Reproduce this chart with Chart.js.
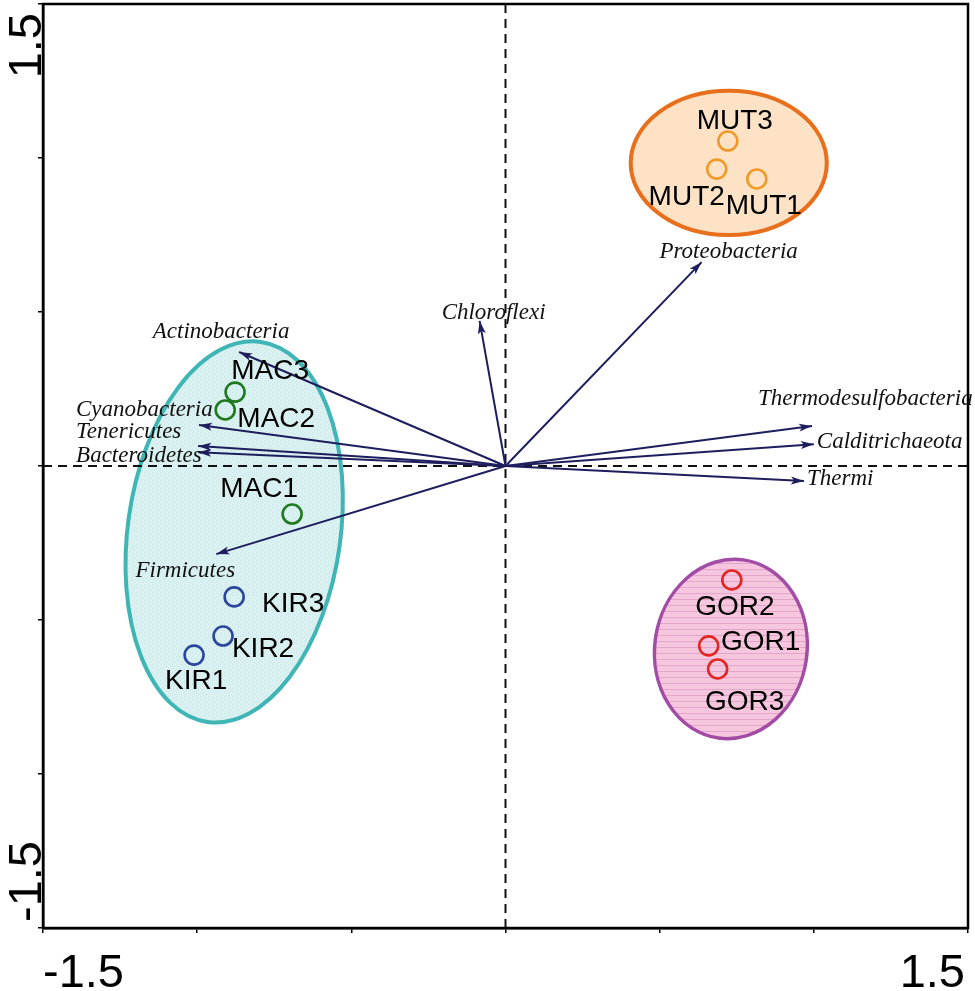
<!DOCTYPE html>
<html>
<head>
<meta charset="utf-8">
<script src="https://cdn.jsdelivr.net/npm/chart.js@4.4.0/dist/chart.umd.min.js"></script>
<style>
  html, body { margin: 0; padding: 0; background: #fff; }
  #wrap { width: 975px; height: 991px; }
</style>
</head>
<body>
<div id="wrap"><canvas id="rdaChart" width="975" height="991"></canvas></div>
<script>
// rda.js
// Biplot RDA: muestras (círculos), filos (flechas) y elipses de grupo

// --- Datos ---
const sampleNames = ['MUT1', 'MUT2', 'MUT3', 'MAC1', 'MAC2', 'MAC3', 'KIR1', 'KIR2', 'KIR3', 'GOR1', 'GOR2', 'GOR3'];
const sampleGroup = ['MUT', 'MUT', 'MUT', 'MAC', 'MAC', 'MAC', 'KIR', 'KIR', 'KIR', 'GOR', 'GOR', 'GOR'];
const sampleX = [0.815, 0.685, 0.721, -0.692, -0.909, -0.877, -1.010, -0.916, -0.880, 0.659, 0.734, 0.688];
const sampleY = [0.932, 0.964, 1.055, -0.156, 0.182, 0.240, -0.614, -0.552, -0.425, -0.584, -0.370, -0.659];

const speciesNames = ['Proteobacteria', 'Chloroflexi', 'Actinobacteria', 'Cyanobacteria', 'Tenericutes',
  'Bacteroidetes', 'Firmicutes', 'Thermodesulfobacteria', 'Calditrichaeota', 'Thermi'];
const speciesX = [0.636, -0.084, -0.864, -0.994, -0.997, -0.997, -0.938, 0.994, 1.000, 0.968];
const speciesY = [0.662, 0.471, 0.370, 0.133, 0.065, 0.045, -0.286, 0.130, 0.071, -0.049];

// elipses de grupo: centro y semiejes en unidades del gráfico
const ellipseGroups = ['MUT', 'GOR', 'MAC-KIR'];
const ellipseCX = [0.724, 0.731, -0.880];
const ellipseCY = [0.984, -0.594, -0.214];
const ellipseRX = [0.318, 0.247, 0.345];
const ellipseRY = [0.234, 0.292, 0.623];
const ellipseTilt = [0, 8, 8]; // grados, sentido horario

const axisMin = -1.5, axisMax = 1.5, axisStep = 0.5;
const xTickLabels = ['-1.5', '1.5'];
const yTickLabels = ['-1.5', '1.5'];

// --- Estilos ---
const groupColors = { MUT: '#f09a2a', MAC: '#1f7a1f', KIR: '#2a469c', GOR: '#e3261f' };
const arrowColor = '#1e1e5e';
const ellipseStyle = [
  { fill: '#fde2c6', stroke: '#e86f1c', width: 4, pattern: null },
  { fill: '#f6c6df', stroke: '#a24ca6', width: 3.5, pattern: 'stripes' },
  { fill: '#dbf0f0', stroke: '#3fb5b5', width: 4, pattern: 'dots' }
];
// desplazamiento de etiquetas en píxeles respecto al punto
const sampleLabelOffset = {
  MUT1: [7, 27], MUT2: [-30, 28], MUT3: [7, -20],
  MAC1: [-33, -25], MAC2: [51, 9], MAC3: [35, -21],
  KIR1: [2, 26], KIR2: [40, 13], KIR3: [59, 7],
  GOR1: [52, -4], GOR2: [3, 27], GOR3: [27, 33]
};
const speciesLabelOffset = {
  Proteobacteria: [27, -10, 'center'], Chloroflexi: [14, -8, 'center'],
  Actinobacteria: [-18, -20, 'center'], Cyanobacteria: [-123, -15, 'left'],
  Tenericutes: [-122, -14, 'left'], Bacteroidetes: [-122, 4, 'left'],
  Firmicutes: [-31, 17, 'center'], Thermodesulfobacteria: [-54, -27, 'left'],
  Calditrichaeota: [3, -2, 'left'], Thermi: [3, -2, 'left']
};

function makePattern(ctx, type, base) {
  const c = document.createElement('canvas');
  const p = c.getContext('2d');
  if (type === 'stripes') {
    c.width = 6; c.height = 6;
    p.fillStyle = base; p.fillRect(0, 0, 6, 6);
    p.fillStyle = '#e4a6c8'; p.fillRect(0, 5, 6, 1);
  } else {
    c.width = 4; c.height = 4;
    p.fillStyle = base; p.fillRect(0, 0, 4, 4);
    p.fillStyle = '#c9e6e6'; p.fillRect(0, 0, 1, 1); p.fillRect(2, 2, 1, 1);
  }
  return ctx.createPattern(c, 'repeat');
}

// Plugin: elipses, ejes discontinuos, flechas, etiquetas y marco
const biplotPlugin = {
  id: 'biplot',
  beforeDatasetsDraw(chart) {
    const ctx = chart.ctx, xs = chart.scales.x, ys = chart.scales.y, a = chart.chartArea;
    ctx.save();
    ellipseGroups.forEach((g, i) => {
      const cx = xs.getPixelForValue(ellipseCX[i]);
      const cy = ys.getPixelForValue(ellipseCY[i]);
      const rx = xs.getPixelForValue(ellipseCX[i] + ellipseRX[i]) - cx;
      const ry = cy - ys.getPixelForValue(ellipseCY[i] + ellipseRY[i]);
      const st = ellipseStyle[i];
      ctx.beginPath();
      ctx.ellipse(cx, cy, rx, ry, ellipseTilt[i] * Math.PI / 180, 0, 2 * Math.PI);
      ctx.fillStyle = st.pattern ? makePattern(ctx, st.pattern, st.fill) : st.fill;
      ctx.fill();
      ctx.lineWidth = st.width;
      ctx.strokeStyle = st.stroke;
      ctx.stroke();
    });
    // líneas de cero
    const x0 = xs.getPixelForValue(0), y0 = ys.getPixelForValue(0);
    ctx.setLineDash([9, 6]);
    ctx.lineWidth = 2;
    ctx.strokeStyle = '#111';
    ctx.beginPath();
    ctx.moveTo(x0, a.top); ctx.lineTo(x0, a.bottom);
    ctx.moveTo(a.left, y0); ctx.lineTo(a.right, y0);
    ctx.stroke();
    ctx.restore();
  },
  afterDatasetsDraw(chart) {
    const ctx = chart.ctx, xs = chart.scales.x, ys = chart.scales.y;
    const x0 = xs.getPixelForValue(0), y0 = ys.getPixelForValue(0);
    ctx.save();
    // puntas de flecha
    ctx.fillStyle = arrowColor;
    speciesNames.forEach((n, i) => {
      const tx = xs.getPixelForValue(speciesX[i]), ty = ys.getPixelForValue(speciesY[i]);
      const ang = Math.atan2(ty - y0, tx - x0);
      ctx.save();
      ctx.translate(tx, ty);
      ctx.rotate(ang);
      ctx.beginPath();
      ctx.moveTo(0, 0);
      ctx.lineTo(-13, -4);
      ctx.lineTo(-10, 0);
      ctx.lineTo(-13, 4);
      ctx.closePath();
      ctx.fill();
      ctx.restore();
    });
    // nombres de filos
    ctx.font = 'italic 23px "Liberation Serif", "Times New Roman", serif';
    ctx.fillStyle = '#111';
    ctx.textBaseline = 'middle';
    speciesNames.forEach((n, i) => {
      const o = speciesLabelOffset[n];
      ctx.textAlign = o[2];
      ctx.fillText(n, xs.getPixelForValue(speciesX[i]) + o[0], ys.getPixelForValue(speciesY[i]) + o[1]);
    });
    // nombres de muestras
    ctx.font = '28px "Liberation Sans", Arial, sans-serif';
    ctx.textAlign = 'center';
    ctx.fillStyle = '#000';
    sampleNames.forEach((n, i) => {
      const o = sampleLabelOffset[n];
      ctx.fillText(n, xs.getPixelForValue(sampleX[i]) + o[0], ys.getPixelForValue(sampleY[i]) + o[1]);
    });
    ctx.restore();
  },
  afterDraw(chart) {
    const ctx = chart.ctx, a = chart.chartArea;
    ctx.save();
    ctx.lineWidth = 2.5;
    ctx.strokeStyle = '#000';
    ctx.strokeRect(a.left, a.top, a.right - a.left, a.bottom - a.top);
    // etiquetas de los extremos de los ejes
    ctx.font = '47px "Liberation Sans", Arial, sans-serif';
    ctx.fillStyle = '#000';
    ctx.textBaseline = 'alphabetic';
    ctx.textAlign = 'left';
    ctx.fillText(xTickLabels[0], a.left, a.bottom + 59);
    ctx.textAlign = 'right';
    ctx.fillText(xTickLabels[1], a.right - 3, a.bottom + 59);
    ctx.save();
    ctx.translate(a.left - 2, a.bottom - 6);
    ctx.rotate(-Math.PI / 2);
    ctx.textAlign = 'left';
    ctx.fillText(yTickLabels[0], 0, 0);
    ctx.restore();
    ctx.save();
    ctx.translate(a.left - 2, a.top + 9);
    ctx.rotate(-Math.PI / 2);
    ctx.textAlign = 'right';
    ctx.fillText(yTickLabels[1], 0, 0);
    ctx.restore();
    ctx.restore();
  }
};

// Conjuntos de datos: una flecha por filo, un grupo de círculos por sitio
const arrowSets = speciesNames.map((n, i) => ({
  label: n,
  data: [{ x: 0, y: 0 }, { x: speciesX[i], y: speciesY[i] }],
  showLine: true,
  borderColor: arrowColor,
  borderWidth: 2,
  pointRadius: 0,
  fill: false
}));

const groups = ['MUT', 'MAC', 'KIR', 'GOR'];
const sampleSets = groups.map(g => ({
  label: g,
  data: sampleNames.map((n, i) => ({ x: sampleX[i], y: sampleY[i], g: sampleGroup[i] }))
    .filter(p => p.g === g),
  showLine: false,
  pointStyle: 'circle',
  pointRadius: 9.5,
  pointBorderWidth: 2.6,
  pointBorderColor: groupColors[g],
  pointBackgroundColor: 'rgba(0,0,0,0)'
}));

function axisOptions(isX) {
  return {
    type: 'linear',
    min: axisMin,
    max: axisMax,
    ticks: { stepSize: axisStep, display: false },
    grid: { drawOnChartArea: false, drawTicks: true, tickLength: 5, color: '#000', lineWidth: 1.5 },
    border: { display: true, color: '#000', width: 2.5 },
    afterFit(s) { if (isX) s.height = 63; else s.width = 43; }
  };
}

const ctx = document.getElementById('rdaChart').getContext('2d');
window.chart = new Chart(ctx, {
  type: 'scatter',
  data: { datasets: [...arrowSets, ...sampleSets] },
  options: {
    responsive: false,
    animation: false,
    layout: { autoPadding: false, padding: { top: 4, right: 7, left: 0, bottom: 0 } },
    plugins: { legend: { display: false }, tooltip: { enabled: false } },
    scales: { x: axisOptions(true), y: axisOptions(false) }
  },
  plugins: [biplotPlugin]
});
</script>
</body>
</html>
